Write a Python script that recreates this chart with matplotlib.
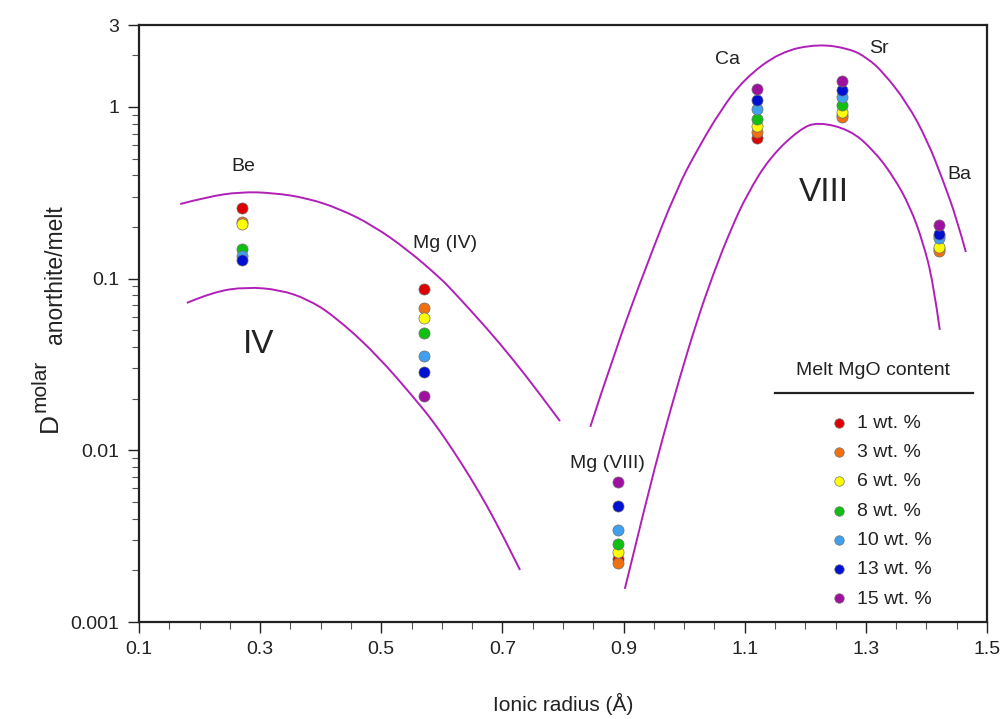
import numpy as np
import matplotlib
matplotlib.use("Agg")
from matplotlib import pyplot as plt
from matplotlib.path import Path
from matplotlib.patches import PathPatch
from matplotlib.ticker import FixedLocator, MultipleLocator, LogLocator, NullFormatter

plt.rcParams['font.family'] = ['Liberation Sans', 'DejaVu Sans']

# measured partition coefficients
elements = ['Be', 'Mg (IV)', 'Mg (VIII)', 'Ca', 'Sr', 'Ba']
radii = [0.27, 0.57, 0.89, 1.12, 1.26, 1.42]

mgo_labels = ['1 wt. %', '3 wt. %', '6 wt. %', '8 wt. %', '10 wt. %', '13 wt. %', '15 wt. %']
mgo_colors = ['#dd0000', '#f07010', '#ffff00', '#10c010', '#40a0f0', '#0010d0', '#a010a0']

d_mgo1 = [0.259, 0.0875, 0.00232, 0.66, 0.90, 0.149]
d_mgo3 = [0.214, 0.0678, 0.00220, 0.716, 0.875, 0.144]
d_mgo6 = [0.209, 0.0593, 0.00255, 0.776, 0.935, 0.153]
d_mgo8 = [0.149, 0.0485, 0.00284, 0.85, 1.03, 0.176]
d_mgo10 = [0.136, 0.0352, 0.00342, 0.97, 1.14, 0.173]
d_mgo13 = [0.129, 0.0284, 0.00472, 1.10, 1.26, 0.183]
d_mgo15 = [np.nan, 0.0206, 0.00652, 1.27, 1.42, 0.206]
d_all = [d_mgo1, d_mgo3, d_mgo6, d_mgo8, d_mgo10, d_mgo13, d_mgo15]

# lattice strain curves
iv_upper_r = [0.168, 0.212, 0.267, 0.321, 0.377, 0.432, 0.486, 0.5425, 0.597, 0.618, 0.6745, 0.7175, 0.757, 0.795]
iv_upper_d = [0.272, 0.299, 0.320, 0.316, 0.295, 0.2545, 0.204, 0.148, 0.101, 0.0848, 0.0513, 0.0338, 0.0224, 0.0148]
iv_lower_r = [0.179, 0.222, 0.278, 0.333, 0.377, 0.420, 0.490, 0.564, 0.592, 0.618, 0.6465, 0.6745, 0.701, 0.729]
iv_lower_d = [0.0722, 0.0837, 0.0895, 0.0860, 0.0762, 0.0615, 0.0369, 0.0184, 0.0137, 0.01005, 0.0070, 0.00475, 0.00317, 0.00201]
viii_upper_r = [0.845, 0.883, 0.939, 0.9885, 1.0215, 1.0595, 1.099, 1.158, 1.221, 1.274, 1.302, 1.328, 1.368, 1.401, 1.427, 1.4505, 1.465]
viii_upper_d = [0.0137, 0.0355, 0.123, 0.3375, 0.562, 0.948, 1.456, 2.09, 2.33, 2.18, 1.93, 1.60, 1.055, 0.642, 0.376, 0.220, 0.143]
viii_lower_r = [0.902, 0.939, 0.965, 0.993, 1.021, 1.048, 1.076, 1.104, 1.142, 1.191, 1.221, 1.274, 1.312, 1.345, 1.373, 1.394, 1.411, 1.422]
viii_lower_d = [0.00156, 0.00535, 0.0120, 0.0268, 0.0567, 0.1065, 0.190, 0.311, 0.511, 0.744, 0.818, 0.735, 0.562, 0.396, 0.262, 0.164, 0.0957, 0.0503]


def smooth_line(ax, r, d, **kw):
    # draw the read points as a smoothed line (quadratic Bezier through midpoints)
    pts = ax.transData.transform(np.column_stack([r, d]))
    verts = [pts[0]]
    codes = [Path.MOVETO]
    for i in range(1, len(pts) - 1):
        mid = (pts[i] + pts[i + 1]) / 2 if i < len(pts) - 2 else pts[i + 1]
        verts += [pts[i], mid]
        codes += [Path.CURVE3, Path.CURVE3]
    patch = PathPatch(Path(verts, codes), fill=False, transform=None, **kw)
    ax.add_artist(patch)


fig = plt.figure(figsize=(10.03, 7.19), dpi=100)
ax = fig.add_axes([0.1386, 0.1349, 0.8455, 0.8303])
ax.set_yscale('log')
ax.set_xlim(0.1, 1.5)
ax.set_ylim(0.001, 3)

curve_color = '#b020b8'
for r, d in [(iv_upper_r, iv_upper_d), (iv_lower_r, iv_lower_d),
             (viii_upper_r, viii_upper_d), (viii_lower_r, viii_lower_d)]:
    smooth_line(ax, r, d, edgecolor=curve_color, lw=1.4, zorder=2)

handles = []
for d, c, lab in zip(d_all, mgo_colors, mgo_labels):
    h = ax.scatter(radii, d, s=64, color=c, edgecolors='#707070', linewidths=0.5, zorder=3, label=lab)
    handles.append(h)

ax.xaxis.set_major_locator(FixedLocator([0.1, 0.3, 0.5, 0.7, 0.9, 1.1, 1.3, 1.5]))
ax.xaxis.set_minor_locator(MultipleLocator(0.05))
ax.set_xticklabels(['0.1', '0.3', '0.5', '0.7', '0.9', '1.1', '1.3', '1.5'])
ax.yaxis.set_major_locator(FixedLocator([0.001, 0.01, 0.1, 1, 3]))
ax.set_yticklabels(['0.001', '0.01', '0.1', '1', '3'])
ax.yaxis.set_minor_locator(LogLocator(base=10, subs=np.arange(2, 10)))
ax.yaxis.set_minor_formatter(NullFormatter())

ax.tick_params(which='major', length=8, width=1, labelsize=14, colors='#222222', pad=6)
ax.tick_params(which='minor', length=5, width=0.8, colors='#555555')
for sp in ax.spines.values():
    sp.set_linewidth(1.6)
    sp.set_color('#222222')

ax.set_xlabel('Ionic radius (Å)', fontsize=15, labelpad=25, color='#222222')

# y label built from pieces: D, superscript "molar", subscript "anorthite/melt"
fig.text(0.0499, 0.4117, 'D', rotation=90, fontsize=19, ha='center', va='center', color='#222222')
fig.text(0.0399, 0.4631, 'molar', rotation=90, fontsize=15, ha='center', va='center', color='#222222')
fig.text(0.0558, 0.6175, 'anorthite/melt', rotation=90, fontsize=16.5, ha='center', va='center', color='#222222')

# element labels
label_pos = {'Be': (0.273, 0.45), 'Mg (IV)': (0.605, 0.16), 'Mg (VIII)': (0.874, 0.0084),
             'Ca': (1.071, 1.9), 'Sr': (1.322, 2.2), 'Ba': (1.455, 0.405)}
for name in elements:
    x, y = label_pos[name]
    ax.text(x, y, name, fontsize=14, ha='center', va='center', color='#222222')
ax.text(0.298, 0.0411, 'IV', fontsize=24, ha='center', va='center', color='#222222')
ax.text(1.231, 0.316, 'VIII', fontsize=24, ha='center', va='center', color='#222222')

# legend
ax.text(0.8656, 0.422, 'Melt MgO content', transform=ax.transAxes, fontsize=14,
        ha='center', va='center', color='#222222')
ax.plot([0.75, 0.9835], [0.3836, 0.3836], transform=ax.transAxes, color='#222222', lw=1.6, clip_on=False)
ax.legend(handles=handles, loc='upper left', bbox_to_anchor=(0.8137, 0.348), frameon=False,
          fontsize=14, handlelength=1.0, handletextpad=0.45, borderaxespad=0, borderpad=0,
          labelspacing=0.6, scatterpoints=1, markerscale=0.85, labelcolor='#222222')

fig.savefig('out.png', dpi=100)
